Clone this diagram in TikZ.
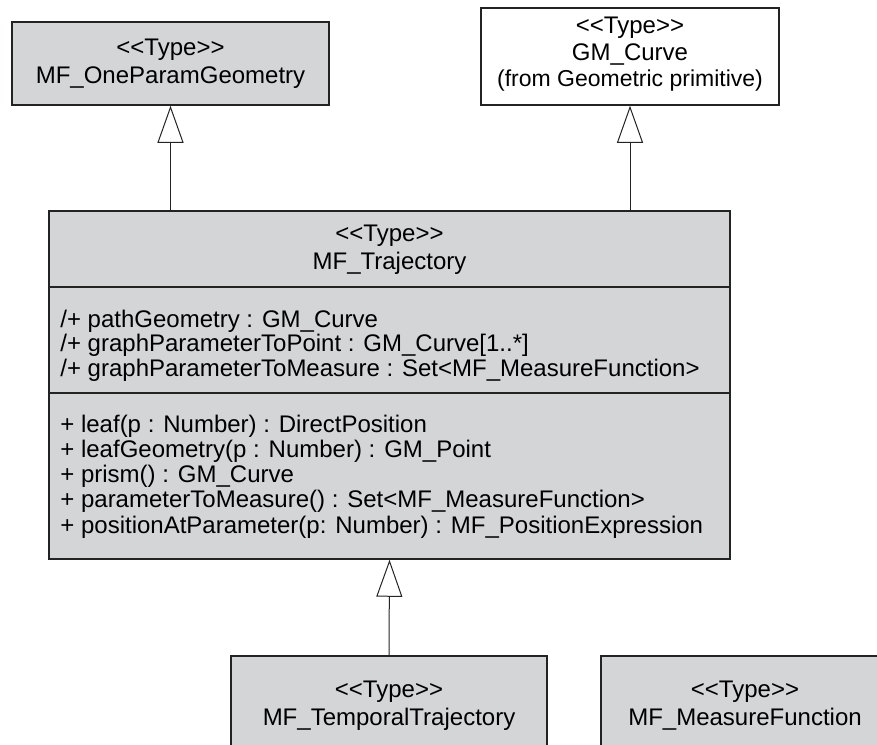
\documentclass[tikz,border=0pt]{standalone}
\usepackage{fontspec}
\setmainfont{Liberation Sans}
\usetikzlibrary{arrows.meta}
\definecolor{tipo}{RGB}{212,213,215}
\definecolor{borde}{RGB}{35,35,35}
\newcommand{\estereotipo}{<{}<Type>{}>}
\newcommand{\letra}{\fontsize{12}{14}\selectfont}

\begin{document}
\begin{tikzpicture}[x=0.5pt,y=-0.5pt,
	caja/.style={draw=borde, line width=0.75pt, fill=tipo, inner sep=0pt, align=center, font=\letra},
	miembro/.style={inner sep=0pt, anchor=base west, font=\letra},
	herencia/.style={-{Triangle[open,length=18.5pt,width=13pt]}, line width=0.5pt, draw=borde}]
	\useasboundingbox (0,0) rectangle (877,744);
	\clip (0,0) rectangle (877,744);
	\node [caja, minimum width=158.5pt, minimum height=41.5pt] (oneparam) at (170.5,63.5) {\estereotipo\\MF\_OneParamGeometry};
	\node [caja, fill=white, minimum width=149pt, minimum height=48.5pt] (curve) at (630,56.5) {};
	\node [align=center, inner sep=0pt, font=\fontsize{12}{13.2}\selectfont] (curvetexto) at (630,54.5) {\estereotipo\\GM\_Curve\\{\fontsize{11.5}{13.2}\selectfont(from Geometric primitive)}};
	\node [caja, minimum width=340.5pt, minimum height=174pt] (trayectoria) at (389.5,385) {};
	\node [align=center, inner sep=0pt, font=\letra] (cabecera) at (389.5,250) {\estereotipo\\MF\_Trajectory};
	\draw [draw=borde, line width=0.75pt] (trayectoria.west |- 0,287) -- (trayectoria.east |- 0,287);
	\draw [draw=borde, line width=0.75pt] (trayectoria.west |- 0,393) -- (trayectoria.east |- 0,393);
	\foreach \txt [count=\i] in {/+ pathGeometry : GM\_Curve,
		/+ graphParameterToPoint : GM\_Curve[1..*],
		/+ graphParameterToMeasure : Set<MF\_MeasureFunction>}
		\node [miembro] (atributo\i) at (60,{327+24.6*(\i-1)}) {\txt};
	\foreach \txt [count=\i] in {+ leaf(p : Number) : DirectPosition,
		+ leafGeometry(p : Number) : GM\_Point,
		+ prism() : GM\_Curve,
		+ parameterToMeasure() : Set<MF\_MeasureFunction>,
		+ positionAtParameter(p: Number) : MF\_PositionExpression}
		\node [miembro] (operacion\i) at (60,{432+25.25*(\i-1)}) {\txt};
	\node [caja, minimum width=158pt, minimum height=50pt] (temporal) at (389,706) {\estereotipo\\MF\_TemporalTrajectory};
	\node [caja, minimum width=144pt, minimum height=50pt] (medida) at (745,706) {\estereotipo\\MF\_MeasureFunction};
	\draw [herencia] (trayectoria.north -| oneparam.south) -- (oneparam.south);
	\draw [herencia] (trayectoria.north -| curve.south) -- (curve.south);
	\draw [herencia] (temporal.north) -- (trayectoria.south);
\end{tikzpicture}
\end{document}
